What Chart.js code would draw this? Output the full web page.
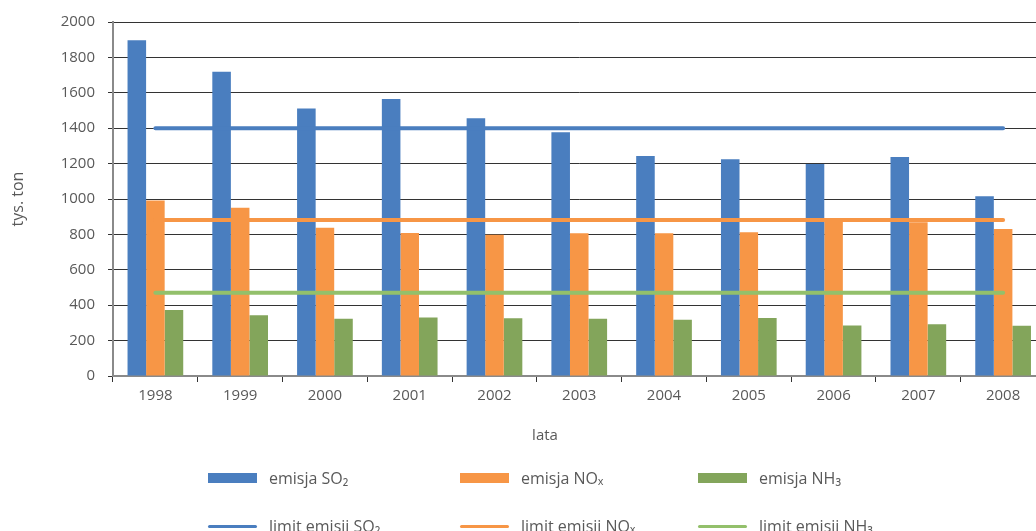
<!DOCTYPE html>
<html>
<head>
<meta charset="utf-8">
<script src="https://cdn.jsdelivr.net/npm/chart.js@4"></script>
<style>
	html, body { margin: 0; padding: 0; background: #fff; overflow: hidden; }
	#wrap { position: relative; width: 1036px; height: 531px; overflow: hidden; }
	#emisje { position: absolute; left: 0; top: 0; }
	#legenda { position: absolute; left: 0; top: 0; width: 1036px; height: 531px; pointer-events: none;
		font-family: "Open Sans", sans-serif; font-size: 16px; color: #595959; }
	.poz { position: absolute; display: flex; align-items: center; height: 20px; white-space: nowrap; }
	.znak { width: 49px; margin-right: 12px; }
</style>
</head>
<body>
<div id="wrap">
	<canvas id="emisje" width="1060" height="531"></canvas>
	<div id="legenda"></div>
</div>
<script>
// lata
const lata = ['1998', '1999', '2000', '2001', '2002', '2003', '2004', '2005', '2006', '2007', '2008'];

// emisje, tys. ton
const emisjaSO2 = [1897, 1719, 1512, 1565, 1456, 1377, 1243, 1224, 1198, 1237, 1015];
const emisjaNOx = [992, 951, 838, 808, 798, 806, 806, 812, 892, 868, 830];
const emisjaNH3 = [373, 343, 324, 330, 326, 323, 318, 328, 286, 292, 284];

// limity emisji (stałe dla całego okresu)
const limitSO2 = [1400, 1400, 1400, 1400, 1400, 1400, 1400, 1400, 1400, 1400, 1400];
const limitNOx = [882, 882, 882, 882, 882, 882, 882, 882, 882, 882, 882];
const limitNH3 = [471, 471, 471, 471, 471, 471, 471, 471, 471, 471, 471];

const osY = { min: 0, max: 2000, krok: 200 };

const kolorTekstu = '#595959';
const czcionka = { family: '"Open Sans", sans-serif', size: 15 };

function slupek(label, data, kolor) {
	return {
		type: 'bar',
		label: label,
		data: data,
		backgroundColor: kolor,
		borderWidth: 0,
		categoryPercentage: 0.657,
		barPercentage: 1,
		order: 2
	};
}

function linia(label, data, kolor) {
	return {
		type: 'line',
		label: label,
		data: data,
		borderColor: kolor,
		backgroundColor: kolor,
		borderWidth: 4,
		borderCapStyle: 'round',
		pointRadius: 0,
		pointHoverRadius: 0,
		fill: false,
		order: 1
	};
}

// napis "lata" pod osią X
const podpisOsiX = {
	id: 'podpisOsiX',
	afterDraw(chart) {
		const c = chart.ctx;
		c.save();
		c.font = czcionka.size + 'px ' + czcionka.family;
		c.fillStyle = kolorTekstu;
		c.textAlign = 'center';
		c.textBaseline = 'middle';
		c.fillText('lata', 545, 436);
		c.restore();
	}
};

const chart = new Chart(document.getElementById('emisje'), {
	data: {
		labels: lata,
		datasets: [
			slupek('emisja SO₂', emisjaSO2, '#4a7ebf'),
			slupek('emisja NOₓ', emisjaNOx, '#f79646'),
			slupek('emisja NH₃', emisjaNH3, '#83a55b'),
			linia('limit emisji SO₂', limitSO2, '#4a7ebf'),
			linia('limit emisji NOₓ', limitNOx, '#f79646'),
			linia('limit emisji NH₃', limitNH3, '#93c06b')
		]
	},
	options: {
		responsive: false,
		animation: false,
		layout: { padding: { top: 22, right: 14.5, left: 0, bottom: 0 } },
		plugins: {
			legend: { display: false },
			tooltip: { enabled: false }
		},
		scales: {
			x: {
				offset: true,
				grid: {
					offset: true,
					drawOnChartArea: false,
					drawTicks: true,
					tickLength: 6,
					color: '#333333'
				},
				border: { color: '#8a8a8a', width: 2 },
				ticks: { color: kolorTekstu, font: czcionka, padding: 5, maxRotation: 0 },
				afterFit(scale) { scale.height = 155; }
			},
			y: {
				min: osY.min,
				max: osY.max,
				grid: { color: '#333333', tickLength: 5 },
				border: { color: '#8a8a8a', width: 2 },
				ticks: {
					stepSize: osY.krok,
					color: kolorTekstu,
					font: czcionka,
					padding: 13,
					callback: function(value) { return String(value); }
				},
				title: { display: true, text: 'tys. ton', color: kolorTekstu, font: { family: czcionka.family, size: 16 }, padding: { top: 8.4, bottom: 0 } },
				afterFit(scale) { scale.width = 113; }
			}
		}
	},
	plugins: [podpisOsiX]
});

// legenda: 3 kolumny, 2 wiersze
const kolumny = [208, 460, 698];
const wiersze = [468, 516];
const legenda = document.getElementById('legenda');
chart.data.datasets.forEach(function(ds, i) {
	const el = document.createElement('div');
	el.className = 'poz';
	el.style.left = kolumny[i % 3] + 'px';
	el.style.top = wiersze[Math.floor(i / 3)] + 'px';
	const znak = document.createElement('span');
	znak.className = 'znak';
	if (ds.type === 'bar') {
		znak.style.height = '10px';
		znak.style.background = ds.backgroundColor;
	} else {
		znak.style.height = '3px';
		znak.style.borderRadius = '2px';
		znak.style.background = ds.borderColor;
	}
	const tekst = document.createElement('span');
	tekst.textContent = ds.label;
	el.appendChild(znak);
	el.appendChild(tekst);
	legenda.appendChild(el);
});
</script>
</body>
</html>
